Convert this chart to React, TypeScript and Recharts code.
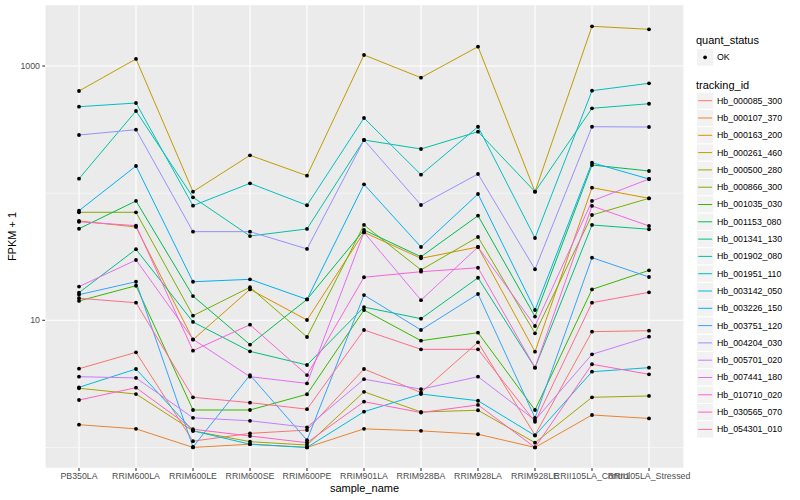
import React from 'react';
import { LineChart, Line, XAxis, YAxis, CartesianGrid } from 'recharts';

const samples = ['PB350LA', 'RRIM600LA', 'RRIM600LE', 'RRIM600SE', 'RRIM600PE', 'RRIM901LA', 'RRIM928BA', 'RRIM928LA', 'RRIM928LE', 'RRII105LA_Control', 'RRII105LA_Stressed'];

const trackingIds = ['Hb_000085_300', 'Hb_000107_370', 'Hb_000163_200', 'Hb_000261_460', 'Hb_000500_280', 'Hb_000866_300', 'Hb_001035_030', 'Hb_001153_080', 'Hb_001341_130', 'Hb_001902_080', 'Hb_001951_110', 'Hb_003142_050', 'Hb_003226_150', 'Hb_003751_120', 'Hb_004204_030', 'Hb_005701_020', 'Hb_007441_180', 'Hb_010710_020', 'Hb_030565_070', 'Hb_054301_010'];

const colors = ['#F8766D', '#EA8331', '#D89000', '#C09B00', '#A3A500', '#7CAE00', '#39B600', '#00BB4E', '#00BF7D', '#00C1A3', '#00BFC4', '#00BAE0', '#00B0F6', '#35A2FF', '#9590FF', '#C77CFF', '#E76BF3', '#FA62DB', '#FF62BC', '#FF6C91'];

// FPKM + 1 per sample, in sample order
const hb000085_300 = [4.16, 5.6, 1.12, 1.29, 1.37, 4.14, 2.7, 6.71, 1.25, 8.14, 8.28];
const hb000107_370 = [1.51, 1.4, 1.0, 1.06, 1.0, 1.4, 1.35, 1.27, 1.0, 1.8, 1.69];
const hb000163_200 = [60.4, 54.2, 7.04, 17.5, 10.05, 49.2, 30.7, 37.7, 5.66, 110.4, 91.1];
const hb000261_460 = [636, 1136, 102.7, 198.5, 137.2, 1221, 809, 1419, 102.7, 2053, 1944];
const hb000500_280 = [2.92, 2.63, 1.35, 1.11, 1.045, 2.74, 1.9, 1.96, 1.09, 2.48, 2.54];
const hb000866_300 = [70.7, 70.7, 10.87, 18.2, 7.39, 56.2, 24.9, 45.2, 7.9, 67.3, 91.1];
const hb001035_030 = [14.2, 18.7, 1.97, 1.97, 2.62, 12.05, 6.91, 7.99, 1.97, 17.5, 24.7];
const hb001153_080 = [52.5, 86.8, 15.5, 6.43, 14.6, 51.3, 31.6, 66.5, 10.7, 166.5, 149.4];
const hb001341_130 = [16.5, 36.2, 9.7, 5.7, 4.45, 12.7, 10.3, 21.6, 4.24, 56.2, 52.0];
const hb001902_080 = [129.9, 442.8, 92.8, 46.0, 52.3, 261.8, 222.5, 304.3, 102.7, 465, 505];
const hb001951_110 = [478.6, 511.7, 79.7, 119.5, 80.3, 390, 139.7, 333, 44.4, 639.5, 731];
const hb003142_050 = [2.97, 4.14, 1.35, 1.06, 1.0, 1.91, 2.63, 2.33, 1.24, 3.94, 4.24];
const hb003226_150 = [72.8, 163.5, 20.1, 21.0, 14.6, 117.4, 37.7, 98.5, 12.05, 173.6, 129.2];
const hb003751_120 = [15.9, 20.1, 1.008, 3.71, 1.14, 15.8, 8.39, 16.1, 1.71, 31.1, 21.9];
const hb004204_030 = [286.7, 315.6, 49.8, 49.8, 36.4, 261.8, 80.7, 141.5, 25.2, 333, 331.3];
const hb005701_020 = [3.6, 3.52, 1.71, 1.62, 1.44, 3.44, 2.87, 3.6, 1.64, 5.4, 7.43];
const hb007441_180 = [18.4, 29.8, 7.09, 3.6, 3.19, 49.2, 14.4, 37.7, 9.02, 86.8, 129.2];
const hb010710_020 = [59.6, 55.5, 5.77, 9.23, 3.71, 21.8, 24.1, 25.9, 4.24, 79.3, 55.2];
const hb030565_070 = [2.36, 2.95, 1.39, 1.23, 1.09, 2.29, 1.88, 2.16, 1.0, 4.51, 3.76];
const hb054301_010 = [14.9, 13.75, 2.48, 2.25, 2.0, 8.39, 5.91, 5.91, 1.59, 13.75, 16.6];

const seriesValues = [hb000085_300, hb000107_370, hb000163_200, hb000261_460, hb000500_280, hb000866_300, hb001035_030, hb001153_080, hb001341_130, hb001902_080, hb001951_110, hb003142_050, hb003226_150, hb003751_120, hb004204_030, hb005701_020, hb007441_180, hb010710_020, hb030565_070, hb054301_010];

const yTicks = [1, 10, 100, 1000];
const yLabelled = [10, 1000];

const rows = samples.map((s, i) => {
  const r: any = { sample: s };
  trackingIds.forEach((id, k) => {
    r[id] = seriesValues[k][i];
  });
  return r;
});

const FONT = '"Liberation Sans", Arial, Helvetica, sans-serif';

const YTick = (props: any) => {
  const { y, payload } = props;
  const v = payload.value;
  if (!yLabelled.includes(v)) return <g />;
  return (
    <g>
      <line x1={42.3} x2={45} y1={y} y2={y} stroke="#333333" strokeWidth={1.07} />
      <text x={40} y={y} dy="0.33em" textAnchor="end" fill="#4D4D4D" fontSize={8.8} fontFamily={FONT}>
        {v}
      </text>
    </g>
  );
};

const hLine = (p: any) => {
  const idx = typeof p.index === 'number' ? p.index : 0;
  const v = yTicks[idx];
  const major = yLabelled.includes(v);
  return <line key={`h-${idx}`} x1={p.x1} x2={p.x2} y1={p.y1} y2={p.y2} stroke="#FFFFFF" strokeWidth={major ? 1.07 : 0.53} />;
};

const vLine = (p: any) => {
  const idx = typeof p.index === 'number' ? p.index : 0;
  return <line key={`v-${idx}`} x1={p.x1} x2={p.x2} y1={p.y1} y2={p.y2} stroke="#FFFFFF" strokeWidth={1.07} />;
};

export default function App() {
  return (
    <div style={{ position: 'absolute', left: 0, top: 0, width: 800, height: 500, background: '#FFFFFF' }}>
      <LineChart width={800} height={500} data={rows} margin={{ top: 5, right: 116, bottom: 0, left: 0 }}>
        <CartesianGrid fill="#EBEBEB" stroke="#FFFFFF" horizontal={hLine} vertical={vLine} />
        <XAxis
          dataKey="sample"
          interval={0}
          height={32}
          tickSize={3}
          padding={{ left: 34, right: 35 }}
          axisLine={false}
          tickLine={{ stroke: '#333333', strokeWidth: 1.07 }}
          tick={{ fill: '#4D4D4D', fontSize: 8.8, fontFamily: FONT }}
        />
        <YAxis
          width={45}
          scale="log"
          domain={[0.689, 3019]}
          allowDataOverflow
          ticks={yTicks}
          axisLine={false}
          tickLine={false}
          tick={<YTick />}
        />
        {trackingIds.map((id, k) => (
          <Line
            key={id}
            dataKey={id}
            stroke={colors[k]}
            strokeWidth={1}
            dot={false}
            activeDot={false}
            isAnimationActive={false}
          />
        ))}
        {trackingIds.map((id) => (
          <Line
            key={`${id}-pts`}
            dataKey={id}
            stroke="none"
            strokeWidth={0}
            dot={{ r: 1.9, fill: '#000000', stroke: 'none' }}
            activeDot={false}
            legendType="none"
            isAnimationActive={false}
          />
        ))}
      </LineChart>
      <svg width={800} height={500} style={{ position: 'absolute', left: 0, top: 0, pointerEvents: 'none' }} fontFamily={FONT}>
        <text transform="translate(12,236.5) rotate(-90)" textAnchor="middle" dy="0.35em" fontSize={11} fill="#000000">
          FPKM + 1
        </text>
        <text x={364.5} y={488} textAnchor="middle" dy="0.35em" fontSize={11} fill="#000000">
          sample_name
        </text>
        <text x={696} y={40.5} dy="0.35em" fontSize={11} fill="#000000">
          quant_status
        </text>
        <rect x={696.5} y={48.7} width={17.3} height={17.3} fill="#F2F2F2" stroke="#FFFFFF" />
        <circle cx={705.1} cy={57.3} r={1.9} fill="#000000" />
        <text x={717} y={57.3} dy="0.33em" fontSize={8.8} fill="#000000">
          OK
        </text>
        <text x={696} y={85} dy="0.35em" fontSize={11} fill="#000000">
          tracking_id
        </text>
        {trackingIds.map((id, k) => {
          const cy = 100.7 + k * 17.3;
          return (
            <g key={`leg-${id}`}>
              <rect x={696.5} y={cy - 8.65} width={17.3} height={17.3} fill="#F2F2F2" stroke="#FFFFFF" />
              <line x1={698.2} x2={712.1} y1={cy} y2={cy} stroke={colors[k]} strokeWidth={1} />
              <text x={717} y={cy} dy="0.33em" fontSize={8.8} fill="#000000">
                {id}
              </text>
            </g>
          );
        })}
      </svg>
    </div>
  );
}
